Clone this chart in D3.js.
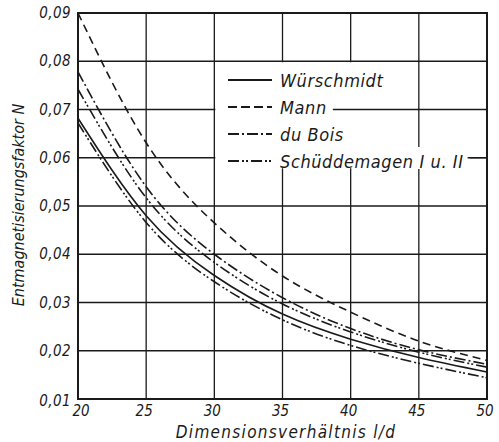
<!DOCTYPE html>
<html>
<head>
<meta charset="utf-8">
<script src="https://cdn.jsdelivr.net/npm/d3@7"></script>
<style>
	html, body { margin: 0; padding: 0; background: #fff; }
	svg text { font-family: 'DejaVu Sans Condensed', 'Liberation Sans Narrow', sans-serif; font-style: italic; fill: #1a1a1a; }
</style>
</head>
<body>
<div id="chart"></div>
<script>
const ratios = [20, 25, 30, 35, 40, 45, 50]
const wuerschmidt = [0.0682, 0.0480, 0.0356, 0.0276, 0.0224, 0.0186, 0.0156]
const mann = [0.0900, 0.0631, 0.0465, 0.0355, 0.0280, 0.0220, 0.0180]
const duBois = [0.0778, 0.0540, 0.0400, 0.0310, 0.0246, 0.0202, 0.0172]
const schueddemagen1 = [0.0742, 0.0517, 0.0383, 0.0297, 0.0239, 0.0197, 0.0166]
const schueddemagen2 = [0.0672, 0.0466, 0.0343, 0.0264, 0.0211, 0.0174, 0.0144]
const xTicks = [20, 25, 30, 35, 40, 45, 50]
const yTicks = [0.01, 0.02, 0.03, 0.04, 0.05, 0.06, 0.07, 0.08, 0.09]

const ink = '#1a1a1a'
const width = 499, height = 442
const x = d3.scaleLinear().domain([20, 50]).range([78, 487])
const y = d3.scaleLinear().domain([0.01, 0.09]).range([399, 13])
const fmt = v => d3.format('.2f')(v).replace('.', ',')

const svg = d3.select('#chart').append('svg')
	.attr('width', width)
	.attr('height', height)

// grid
svg.append('g')
	.selectAll('line')
	.data(xTicks)
	.enter().append('line')
		.attr('x1', d => x(d)).attr('x2', d => x(d))
		.attr('y1', y(0.09)).attr('y2', y(0.01))
		.attr('stroke', ink).attr('stroke-width', 1.3)
svg.append('g')
	.selectAll('line')
	.data(yTicks)
	.enter().append('line')
		.attr('x1', x(20)).attr('x2', x(50))
		.attr('y1', d => y(d)).attr('y2', d => y(d))
		.attr('stroke', ink).attr('stroke-width', 1.3)

// curves
const series = [
	{ label: 'Würschmidt', values: wuerschmidt, dash: null },
	{ label: 'Mann', values: mann, dash: '8,5' },
	{ label: 'du Bois', values: duBois, dash: '11,3,2,3' },
	{ label: 'Schüddemagen I u. II', values: schueddemagen1, dash: '11,3,2,2,2,3' },
	{ label: null, values: schueddemagen2, dash: '11,3,2,2,2,3' }
]
const line = d3.line()
	.x((d, i) => x(ratios[i]))
	.y(d => y(d))
	.curve(d3.curveNatural)
svg.append('g')
	.selectAll('path')
	.data(series)
	.enter().append('path')
		.attr('d', d => line(d.values))
		.attr('fill', 'none')
		.attr('stroke', ink)
		.attr('stroke-width', 1.6)
		.attr('stroke-dasharray', d => d.dash)

// legend box blanks the grid
svg.append('rect')
	.attr('x', x(30) + 1).attr('y', y(0.08) + 1)
	.attr('width', x(45) - x(30) - 2).attr('height', 106)
	.attr('fill', '#fff')
const lastRow = svg.append('rect')
	.attr('x', x(45) - 2).attr('y', 147)
	.attr('height', 22)
	.attr('fill', '#fff')

const legendItems = series.filter(d => d.label)
const legend = svg.append('g')
	.selectAll('g')
	.data(legendItems)
	.enter().append('g')
		.attr('transform', (d, i) => `translate(228,${80 + i * 27})`)
legend.append('line')
	.attr('x1', 0).attr('x2', 44)
	.attr('stroke', ink).attr('stroke-width', 1.8)
	.attr('stroke-dasharray', d => d.dash ? (d.label === 'Mann' ? '9,4' : d.dash) : null)
const labels = legend.append('text')
	.attr('x', 52).attr('y', 7)
	.attr('font-size', 18)
	.attr('letter-spacing', 0.6)
	.text(d => d.label)

// grid pieces that show after the legend text
const ends = labels.nodes().map(n => 228 + 52 + n.getComputedTextLength())
lastRow.attr('width', ends[3] + 4 - (x(45) - 2))
svg.append('line')
	.attr('x1', ends[1] + 6).attr('x2', x(45))
	.attr('y1', y(0.07)).attr('y2', y(0.07))
	.attr('stroke', ink).attr('stroke-width', 1.3)
svg.append('line')
	.attr('x1', ends[3] + 6).attr('x2', x(50))
	.attr('y1', y(0.06)).attr('y2', y(0.06))
	.attr('stroke', ink).attr('stroke-width', 1.3)

// frame
svg.append('rect')
	.attr('x', x(20)).attr('y', y(0.09))
	.attr('width', x(50) - x(20)).attr('height', y(0.01) - y(0.09))
	.attr('fill', 'none').attr('stroke', ink).attr('stroke-width', 2)

// tick labels
svg.append('g')
	.selectAll('text')
	.data(yTicks)
	.enter().append('text')
		.attr('x', 71)
		.attr('y', d => y(d) + (d === 0.01 ? 7 : 5))
		.attr('text-anchor', 'end')
		.attr('font-size', 15)
		.attr('letter-spacing', 0.4)
		.text(fmt)
svg.append('g')
	.selectAll('text')
	.data(xTicks)
	.enter().append('text')
		.attr('x', d => x(d) + (d === 20 ? 3 : -2))
		.attr('y', 416)
		.attr('text-anchor', 'middle')
		.attr('font-size', 15)
		.text(d => d)

// axis titles
svg.append('text')
	.attr('x', 286).attr('y', 438)
	.attr('text-anchor', 'middle')
	.attr('font-size', 17)
	.attr('letter-spacing', 1.3)
	.text('Dimensionsverhältnis  l/d')
svg.append('text')
	.attr('transform', 'translate(24,205) rotate(-90)')
	.attr('text-anchor', 'middle')
	.attr('font-size', 16)
	.text('Entmagnetisierungsfaktor  N')
</script>
</body>
</html>
